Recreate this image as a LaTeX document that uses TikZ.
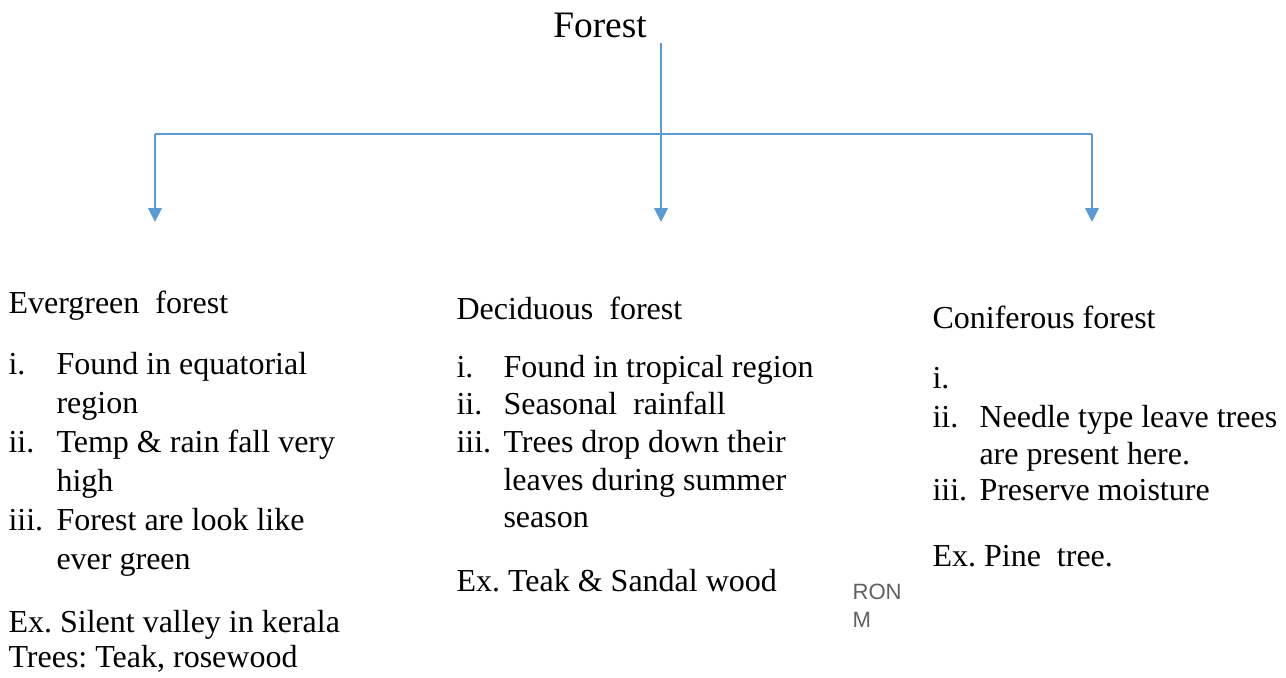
\documentclass[tikz,border=0pt]{standalone}
\usepackage{fontspec}
\setmainfont{Liberation Serif}
\newfontfamily\ronfont{Liberation Sans}
\usetikzlibrary{arrows.meta,positioning}
\definecolor{wordblue}{RGB}{91,155,213}
\frenchspacing
\tikzset{
  ttl/.style={font=\fontsize{14}{16}\selectfont,anchor=base,inner sep=0pt},
  hd/.style={font=\fontsize{12}{14}\selectfont,anchor=base west,inner sep=0pt},
  tx/.style={font=\fontsize{12}{14}\selectfont,anchor=base west,inner sep=0pt},
  mk/.style={font=\fontsize{8.3}{10}\ronfont,text=black!62,anchor=base west,inner sep=0pt},
  br/.style={draw=wordblue,line width=.5pt},
  dn/.style={-{Triangle[length=5.2pt,width=5pt]},draw=wordblue,fill=wordblue,line width=.9pt},
}

\begin{document}
\begin{tikzpicture}[x=0.375pt,y=-0.375pt]
\useasboundingbox (0,0) rectangle (1286,677);
% title and the bracket that splits it into three
\node[ttl] (forest) at (600,37) {Forest};
\coordinate (top) at (661,43);
\coordinate (hub) at (661,134);
\coordinate (lft) at (155,134); \coordinate (rgt) at (1092,134);
\coordinate (lend) at (155,222); \coordinate (mend) at (661,222);
\coordinate (rend) at (1092,222);
\draw[br] (top)--(hub) (lft)--(rgt);
\draw[dn] (lft)--(lend);
\draw[dn] (hub)--(mend);
\draw[dn] (rgt)--(rend);

% evergreen
\node[hd] (ev) at (8,313) {Evergreen\ \ forest};
\node[tx] (ev1n) at (8,374) {i.};   \node[tx] (ev1) at (56,374) {Found in equatorial};
\node[tx] (ev1b) at (56,413) {region};
\node[tx] (ev2n) at (8,452) {ii.};  \node[tx] (ev2) at (56,452) {Temp \& rain fall very};
\node[tx] (ev2b) at (56,491) {high};
\node[tx] (ev3n) at (8,530) {iii.}; \node[tx] (ev3) at (56,530) {Forest are look like};
\node[tx] (ev3b) at (56,569) {ever green};
\node[tx] (evex) at (8,632) {Ex. Silent valley in kerala};
\node[tx] (evtr) at (8,667) {Trees: Teak, rosewood};

% deciduous
\node[hd] (de) at (456,319) {Deciduous\ \ forest};
\node[tx] (de1n) at (456,377) {i.};   \node[tx] (de1) at (503,377) {Found in tropical region};
\node[tx] (de2n) at (456,414) {ii.};  \node[tx] (de2) at (503,414) {Seasonal\ \ rainfall};
\node[tx] (de3n) at (456,452) {iii.}; \node[tx] (de3) at (503,452) {Trees drop down their};
\node[tx] (de3b) at (503,490) {leaves during summer};
\node[tx] (de3c) at (503,527) {season};
\node[tx] (deex) at (456,591) {Ex. Teak \& Sandal wood};

\node[mk] (ron) at (852,599) {RON};
\node[mk] (ronm) at (852,627) {M};

% coniferous
\node[hd] (co) at (932,328) {Coniferous forest};
\node[tx] (co1n) at (932,388) {i.};
\node[tx] (co2n) at (932,427) {ii.};  \node[tx] (co2) at (979,427) {Needle type leave trees};
\node[tx] (co2b) at (979,464) {are present here.};
\node[tx] (co3n) at (932,500) {iii.}; \node[tx] (co3) at (979,500) {Preserve moisture};
\node[tx] (coex) at (932,566) {Ex. Pine\ \ tree.};
\end{tikzpicture}
\end{document}
